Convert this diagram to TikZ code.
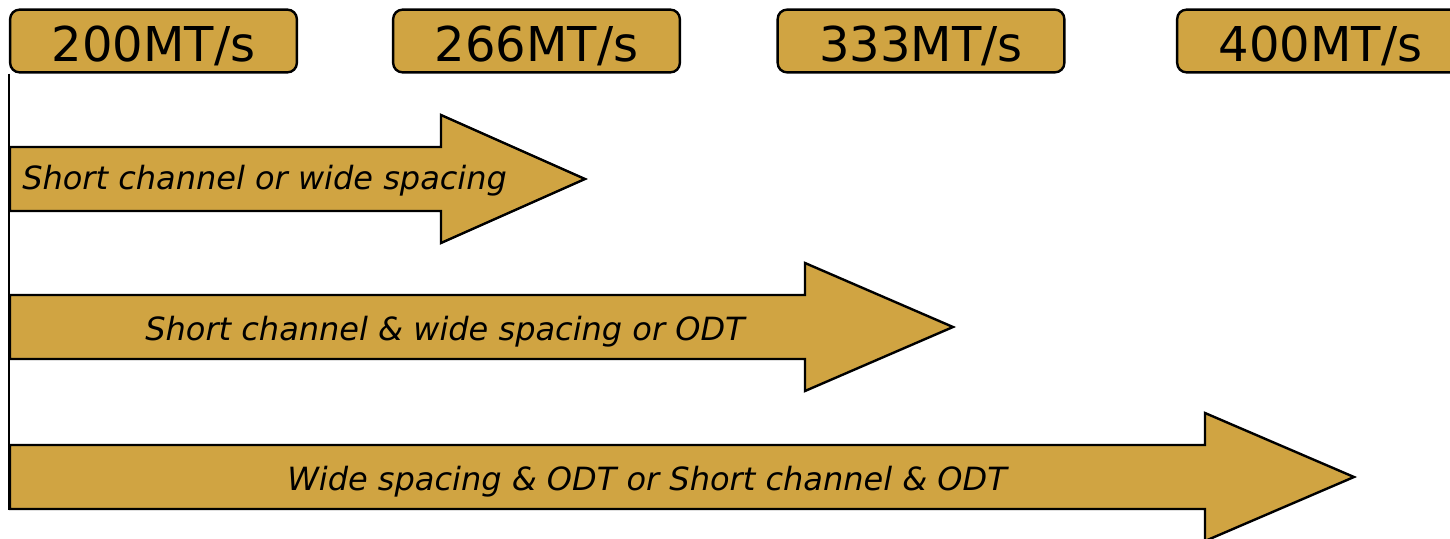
\documentclass[tikz,border=0pt]{standalone}
\usepackage{fontspec}
\setmainfont{DejaVu Sans}[ItalicFont={DejaVu Sans Oblique}]
\definecolor{ocre}{RGB}{208,164,66}
\tikzset{
	debit/.style={draw, fill=ocre, line width=1.8pt, rounded corners=7pt,
		minimum width=215pt, minimum height=47pt, inner sep=0pt,
		text height=31pt, text depth=0pt, font=\fontsize{36}{36}\selectfont},
	fleche/.style={draw, fill=ocre, line width=1.8pt},
	cas/.style={inner sep=0pt, font=\fontsize{24}{24}\selectfont\itshape},
	axe/.style={line width=2pt},
}
\begin{document}
\begin{tikzpicture}[x=0.75pt, y=-0.75pt]
	\useasboundingbox (0,0) rectangle (1450,539);
	\clip (0,0) rectangle (1450,539);
	% débits
	\node[debit] (r200) at (153.5,41) {200MT/s};
	\node[debit] (r266) at (536.5,41) {266MT/s};
	\node[debit] (r333) at (921,41) {333MT/s};
	\node[debit] (r400) at (1320.5,41) {400MT/s};
	% flèches
	\draw[fleche] (10,147)--(441,147)--(441,115)--(585,179)--(441,243)--(441,211)--(10,211)--cycle;
	\draw[fleche] (10,295)--(805,295)--(805,263)--(953,327)--(805,391)--(805,359)--(10,359)--cycle;
	\draw[fleche] (10,445)--(1205,445)--(1205,413)--(1354,477)--(1205,541)--(1205,509)--(10,509)--cycle;
	% textes des flèches
	\node[cas, anchor=base west] (c1) at (22,189) {Short channel or wide spacing};
	\node[cas, anchor=base] (c2) at (445,340) {Short channel \& wide spacing or ODT};
	\node[cas, anchor=base] (c3) at (647,490) {Wide spacing \& ODT or Short channel \& ODT};
	% axe
	\coordinate (pied) at (10,510);
	\draw[axe] (r200.south west) -- (r200.south west |- pied);
\end{tikzpicture}
\end{document}
